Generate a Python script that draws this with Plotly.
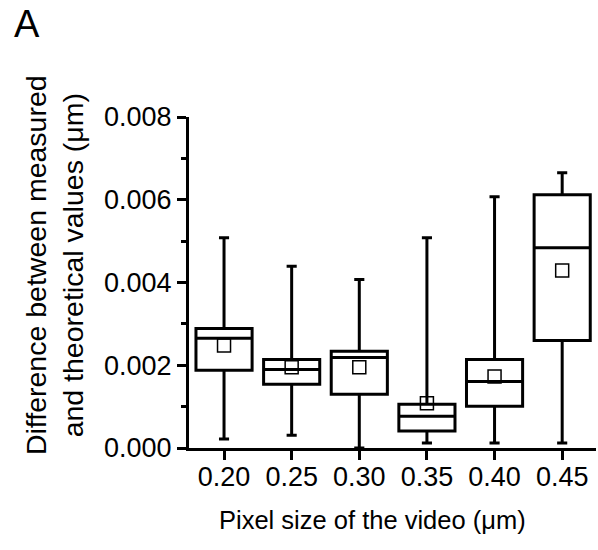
import plotly.graph_objects as go

# pixel size categories (µm)
pixel_sizes = ["0.20", "0.25", "0.30", "0.35", "0.40", "0.45"]
positions = [1, 2, 3, 4, 5, 6]

# box statistics (µm)
whisker_low = [0.00022, 0.00031, 0.00000, 0.00012, 0.00012, 0.00012]
q1 = [0.00188, 0.00154, 0.00130, 0.00041, 0.00101, 0.00260]
median = [0.00265, 0.00190, 0.00219, 0.00077, 0.00161, 0.00484]
q3 = [0.00289, 0.00214, 0.00234, 0.00106, 0.00214, 0.00612]
whisker_high = [0.00508, 0.00439, 0.00407, 0.00508, 0.00607, 0.00665]
means = [0.00248, 0.00195, 0.00195, 0.00108, 0.00173, 0.00429]

FONT = "Arial, Liberation Sans, sans-serif"

fig = go.Figure()

fig.add_trace(go.Box(
    x=positions,
    q1=q1,
    median=median,
    q3=q3,
    lowerfence=whisker_low,
    upperfence=whisker_high,
    width=0.83,
    whiskerwidth=0.18,
    boxpoints=False,
    fillcolor="white",
    line=dict(color="black", width=3),
    hoverinfo="skip",
))

# mean shown as an open square
fig.add_trace(go.Scatter(
    x=positions,
    y=means,
    mode="markers",
    marker=dict(symbol="square-open", size=13, color="black",
                line=dict(color="black", width=1.5)),
    hoverinfo="skip",
))

fig.update_layout(
    width=598,
    height=550,
    margin=dict(l=189, r=2, t=117, b=102),
    plot_bgcolor="white",
    paper_bgcolor="white",
    showlegend=False,
    font=dict(family=FONT, color="black", size=27),
    xaxis=dict(
        range=[0.482, 6.5],
        tickvals=positions,
        ticktext=pixel_sizes,
        ticks="outside",
        ticklen=9,
        tickwidth=3,
        tickcolor="black",
        ticklabelstandoff=-6,
        showline=True,
        linecolor="black",
        linewidth=3,
        showgrid=False,
        zeroline=False,
        tickfont=dict(size=27),
    ),
    yaxis=dict(
        range=[0, 0.008],
        tickvals=[0, 0.002, 0.004, 0.006, 0.008],
        ticktext=["0.000", "0.002", "0.004", "0.006", "0.008"],
        ticks="outside",
        ticklen=9,
        tickwidth=3,
        tickcolor="black",
        minor=dict(ticks="outside", ticklen=5, tickwidth=3,
                   tickcolor="black", dtick=0.001, showgrid=False),
        showline=True,
        linecolor="black",
        linewidth=3,
        showgrid=False,
        zeroline=False,
        tickfont=dict(size=27),
    ),
    annotations=[
        dict(text="A", xref="paper", yref="paper", x=-0.398, y=1.282,
             showarrow=False, font=dict(size=38), xanchor="center", yanchor="middle"),
        dict(text="Pixel size of the video (μm)", xref="paper", yref="paper",
             x=0.45, y=-0.2175, showarrow=False, font=dict(size=25.5),
             xanchor="center", yanchor="middle"),
        dict(text="Difference between measured<br>and theoretical values (μm)",
             xref="paper", yref="paper", x=-0.329, y=0.553, textangle=-90,
             showarrow=False, font=dict(size=28.5), xanchor="center", yanchor="middle"),
    ],
)

# drop the default page margin so the figure sits at the window origin
fig.write_html("out.html", config={"displayModeBar": False},
               post_script="document.body.style.margin='0px';")
